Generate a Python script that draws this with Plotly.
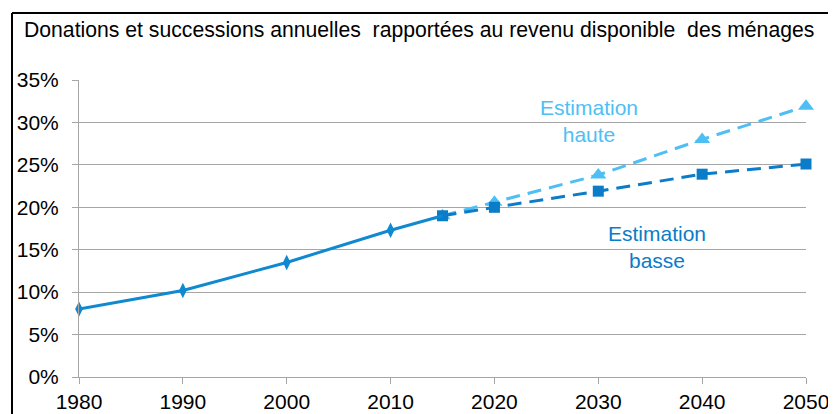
import plotly.graph_objects as go

hist_years = [1980, 1990, 2000, 2010, 2015]
hist_vals = [8.0, 10.2, 13.5, 17.3, 19.0]
high_years = [2015, 2020, 2030, 2040, 2050]
high_vals = [19.0, 20.6, 23.8, 28.0, 31.9]
low_years = [2015, 2020, 2030, 2040, 2050]
low_vals = [19.0, 20.0, 21.9, 23.9, 25.1]
x_ticks = [1980, 1990, 2000, 2010, 2020, 2030, 2040, 2050]
y_ticks = [0, 5, 10, 15, 20, 25, 30, 35]
y_labels = [f"{v}%" for v in y_ticks]

C_HIST = "#1089d0"
C_LOW = "#0a7cc8"
C_HIGH = "#4dbff5"
FONT = "Liberation Sans, Arial, sans-serif"
FS = 21

# page is offset by the 8px body margin
OFF = 8
W, H = 836 - OFF, 414 - OFF
L, R, T, B = 79 - OFF, 30, 80 - OFF, 37
pw, ph = W - L - R, H - T - B

def px(xp):  # page x -> paper
    return (xp - OFF - L) / pw

def py(yp):  # page y -> paper
    return (H - B - (yp - OFF)) / ph

fig = go.Figure()
fig.add_trace(go.Scatter(x=high_years, y=high_vals, mode="lines+markers", cliponaxis=False,
                         line=dict(color=C_HIGH, width=3, dash="14px,8px"),
                         marker=dict(symbol="triangle-up", size=14, color=C_HIGH),
                         showlegend=False))
fig.add_trace(go.Scatter(x=low_years, y=low_vals, mode="lines+markers", cliponaxis=False,
                         line=dict(color=C_LOW, width=3, dash="14px,8px"),
                         marker=dict(symbol="square", size=11, color=C_LOW),
                         showlegend=False))
fig.add_trace(go.Scatter(x=hist_years[:-1], y=hist_vals[:-1], mode="markers", cliponaxis=False,
                         marker=dict(symbol="diamond-tall", size=11, color=C_HIST),
                         showlegend=False))
fig.add_trace(go.Scatter(x=hist_years, y=hist_vals, mode="lines", cliponaxis=False,
                         line=dict(color=C_HIST, width=3),
                         showlegend=False))

fig.add_annotation(x=px(589), y=py(121), xref="paper", yref="paper", text="Estimation<br>haute",
                   xanchor="center", yanchor="middle",
                   showarrow=False, font=dict(family=FONT, size=FS, color=C_HIGH),
                   align="center")
fig.add_annotation(x=px(657), y=py(247), xref="paper", yref="paper", text="Estimation<br>basse",
                   xanchor="center", yanchor="middle",
                   showarrow=False, font=dict(family=FONT, size=FS, color=C_LOW),
                   align="center")

fig.add_annotation(x=px(22), y=py(30), xref="paper", yref="paper",
                   xanchor="left", yanchor="middle", showarrow=False,
                   text="Donations et successions annuelles  rapportées au revenu disponible  des ménages",
                   font=dict(family=FONT, size=21.2, color="#000000"))

fig.add_shape(type="line", xref="paper", yref="paper", x0=px(12), x1=px(850), y0=py(13), y1=py(13),
              line=dict(color="black", width=2))
fig.add_shape(type="line", xref="paper", yref="paper", x0=px(12), x1=px(12), y0=py(13), y1=py(430),
              line=dict(color="black", width=2))

fig.update_layout(
    width=W, height=H,
    margin=dict(l=L, r=R, t=T, b=B, pad=0, autoexpand=False),
    paper_bgcolor="white", plot_bgcolor="white",
    font=dict(family=FONT, size=FS, color="#000000"),
    xaxis=dict(range=[1980, 2050], tickvals=x_ticks, ticks="outside", ticklen=6,
               tickcolor="#a6a6a6", showgrid=False, zeroline=False, automargin=False,
               showline=True, linecolor="#a6a6a6", linewidth=1,
               tickfont=dict(family=FONT, size=FS)),
    yaxis=dict(range=[0, 35], tickvals=y_ticks, ticktext=y_labels, ticks="outside",
               ticklen=6, tickcolor="#a6a6a6", showgrid=True, gridcolor="#a6a6a6",
               gridwidth=1, zeroline=False, showline=True, linecolor="#a6a6a6",
               linewidth=1, automargin=False, ticklabelstandoff=9,
               tickfont=dict(family=FONT, size=FS)),
)

fig.write_html("out.html")
